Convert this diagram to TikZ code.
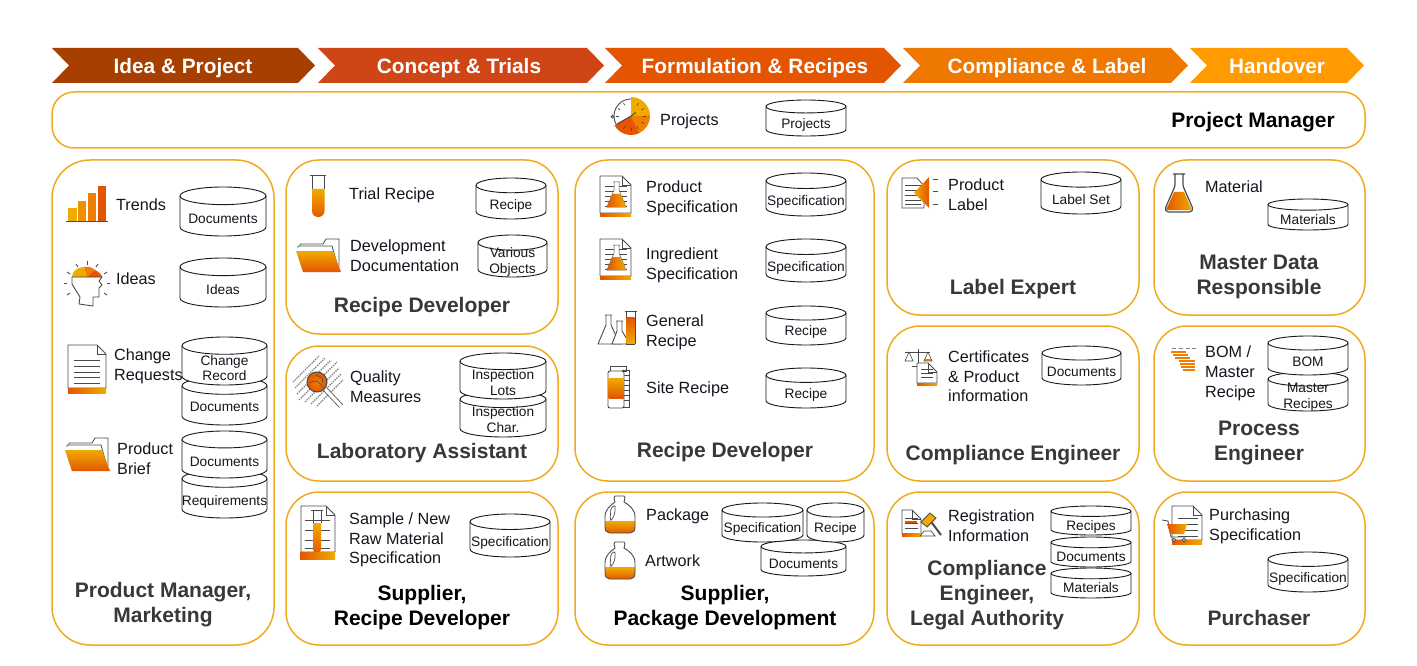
\documentclass[tikz,border=0pt]{standalone}
\usetikzlibrary{calc}
\usepackage{fontspec}
\setmainfont{Liberation Sans}
\definecolor{oa}{HTML}{E35500}
\definecolor{ob}{HTML}{EE7F00}
\definecolor{oc}{HTML}{F0AB00}
\definecolor{frameo}{HTML}{F0AB1E}
\definecolor{ink}{HTML}{15151F}
\definecolor{titlegray}{HTML}{383838}
\definecolor{linegray}{HTML}{4A4A4A}
\definecolor{cha}{HTML}{A63F00}
\definecolor{chb}{HTML}{D04515}
\definecolor{chc}{HTML}{E35500}
\definecolor{chd}{HTML}{EE7800}
\definecolor{che}{HTML}{FF9A00}
\tikzset{
  lbl/.style={anchor=west,align=left,inner sep=0pt,yshift=-1pt,text=ink,font=\fontsize{16.2}{19.7}\selectfont},
  cyltxt/.style={align=center,inner sep=0pt,yshift=-1pt,text=ink,font=\fontsize{13.7}{15.7}\selectfont},
  ttl/.style={align=center,inner sep=0pt,yshift=-2pt,text=titlegray,font=\bfseries\fontsize{21}{25}\selectfont},
  ttlb/.style={ttl,text=black},
  chevtxt/.style={inner sep=0pt,text height=15pt,text depth=4.5pt,text=white,font=\bfseries\fontsize{20.8}{24}\selectfont},
  panel/.style={draw=frameo,line width=1.5pt,rounded corners=33pt,fill=white},
  cylline/.style={draw=black!90,line width=.9pt,fill=white},
  thin ico/.style={draw=linegray,line width=.8pt},
}
% name x1 y1 x2 y2 texty text
\newcommand{\cyl}[7]{%
  \pgfmathsetmacro{\cx}{(#2+#4)/2}%
  \pgfmathsetmacro{\ry}{0.18*(#5-#3)}%
  \pgfmathsetmacro{\kx}{0.5523*(#4-#2)/2}%
  \pgfmathsetmacro{\ky}{0.5523*\ry}%
  \draw[cylline] (#2,#3+\ry) .. controls (#2,#3+\ry-\ky) and (\cx-\kx,#3) .. (\cx,#3)
     .. controls (\cx+\kx,#3) and (#4,#3+\ry-\ky) .. (#4,#3+\ry)
     -- (#4,#5-\ry) .. controls (#4,#5-\ry+\ky) and (\cx+\kx,#5) .. (\cx,#5)
     .. controls (\cx-\kx,#5) and (#2,#5-\ry+\ky) .. (#2,#5-\ry) -- cycle;
  \draw[cylline,fill=none] (#2,#3+\ry) .. controls (#2,#3+\ry+\ky) and (\cx-\kx,#3+2*\ry) .. (\cx,#3+2*\ry)
     .. controls (\cx+\kx,#3+2*\ry) and (#4,#3+\ry+\ky) .. (#4,#3+\ry);
  \node[cyltxt] (#1) at (\cx,#6) {#7};}
% name x1 x2 colour textx text
\newcommand{\chev}[6]{%
  \fill[#4] (#2,48) -- (#3-17,48) -- (#3,65.5) -- (#3-17,83) -- (#2,83) -- (#2+17,65.5) -- cycle;
  \node[chevtxt] (#1) at (#5,68.2) {#6};}
\newcommand{\ostrip}[4]{\shade[left color=oa,right color=oc] (#1,#2) rectangle (#3,#4);}
\newcommand{\page}[4]{%
  \draw[thin ico,fill=white,line join=round] (#1,#2) -- (#1+#3-9,#2) -- (#1+#3,#2+9) -- (#1+#3,#2+#4) -- (#1,#2+#4) -- cycle;
  \draw[thin ico] (#1+#3-9,#2) -- (#1+#3-9,#2+9) -- (#1+#3,#2+9);}
\newcommand{\folder}[2]{\begin{scope}[shift={(#1,#2)}]
  \draw[linegray,line width=.8pt,fill=white] (4,9) -- (4,5) -- (27,5) -- (30,0) -- (43,0) -- (43,28);
  \draw[linegray,line width=.8pt,fill=white] (2,9) -- (2,7) -- (36,7) -- (43,32);
  \shade[top color=oc,middle color=ob,bottom color=oa] (0,12) -- (37,12) -- (45,33) -- (7,33) -- cycle;
\end{scope}}
\newcommand{\specicon}[2]{\begin{scope}[shift={(#1,#2)}]
  \page{0}{0}{31}{37}
  \foreach \yy in {10,15,20,25,30} {\draw[linegray,line width=.5pt] (5,\yy) -- (27,\yy);}
  \fill[white] (14,6) -- (19,6) -- (19,14) -- (26,31) -- (7,31) -- (14,14) -- cycle;
  \draw[linegray,line width=.5pt] (13,6) -- (20,6) (14,6) -- (14,14) -- (7,31) -- (26,31) -- (19,14) -- (19,6);
  \shade[left color=oa,right color=oc] (12.5,18) -- (20.5,18) -- (26,31) -- (7,31) -- cycle;
  \ostrip{0}{37}{31}{40}
\end{scope}}
\newcommand{\jugpath}{(10,0) -- (19,0) -- (20,2) -- (19,6) .. controls (24,9) and (30,13) .. (30,21) -- (30,31) .. controls (30,35) and (28,37) .. (25,37) -- (5,37) .. controls (2,37) and (0,35) .. (0,31) -- (0,21) .. controls (0,13) and (6,9) .. (10,6) -- (9,2) -- cycle}
\newcommand{\jug}[2]{\begin{scope}[shift={(#1,#2)}]
  \fill[white] \jugpath;
  \begin{scope}\clip \jugpath;
    \shade[top color=oc,bottom color=oa] (-1,25) rectangle (31,38);
  \end{scope}
  \draw[linegray,line width=.9pt,line join=round] \jugpath;
  \draw[linegray,line width=.7pt,rounded corners=1.5pt] (6,12) -- (10,9) -- (10,17) -- (7,24) -- (5,24) -- cycle;
\end{scope}}
\begin{document}
\begin{tikzpicture}[x=1pt,y=-1pt]
\useasboundingbox (0,0) rectangle (1417,666);
\fill[white] (0,0) rectangle (1417,666);
% chevrons
\chev{cA}{52}{315}{cha}{183}{Idea \& Project}
\chev{cB}{318}{604}{chb}{459}{Concept \& Trials}
\chev{cC}{605}{901}{chc}{755}{Formulation \& Recipes}
\chev{cD}{903}{1188}{chd}{1047}{Compliance \& Label}
\chev{cE}{1190}{1364}{che}{1277}{Handover}
% panels
\draw[panel,rounded corners=22pt] (52,92) rectangle (1365,148);
\draw[panel,rounded corners=38pt] (52,160) rectangle (274,645);
\draw[panel] (286,160) rectangle (558,334);
\draw[panel] (286,346) rectangle (558,481);
\draw[panel] (286,492) rectangle (558,645);
\draw[panel] (575,160) rectangle (874,481);
\draw[panel] (575,492) rectangle (874,645);
\draw[panel] (887,160) rectangle (1139,315);
\draw[panel] (887,326) rectangle (1139,481);
\draw[panel] (887,492) rectangle (1139,645);
\draw[panel] (1154,160) rectangle (1365,315);
\draw[panel] (1154,326) rectangle (1365,481);
\draw[panel] (1154,492) rectangle (1365,645);
% titles
\node[ttlb] (tPM) at (1253,120) {Project Manager};
\node[ttl] (t1) at (163,602.5) {Product Manager,\\Marketing};
\node[ttl] (t2) at (422,305) {Recipe Developer};
\node[ttl] (t3) at (422,451) {Laboratory Assistant};
\node[ttlb] (t4) at (422,605.5) {Supplier,\\Recipe Developer};
\node[ttl] (t5) at (725,450) {Recipe Developer};
\node[ttlb] (t6) at (725,605.5) {Supplier,\\Package Development};
\node[ttl] (t7) at (1013,287) {Label Expert};
\node[ttl] (t8) at (1013,453) {Compliance Engineer};
\node[ttl] (t9) at (987,593) {Compliance\\Engineer,\\Legal Authority};
\node[ttl] (t10) at (1259,274.5) {Master Data\\Responsible};
\node[ttl] (t11) at (1259,440.5) {Process\\Engineer};
\node[ttl] (t12) at (1259,616) {Purchaser};
% cylinders
\cyl{d1}{180}{187}{266}{236}{218}{Documents}
\cyl{d2}{180}{258}{266}{307}{289}{Ideas}
\cyl{d4}{182}{377}{267}{425}{406}{Documents}
\cyl{d3}{182}{337}{267}{385}{367}{Change\\Record}
\cyl{d6}{182}{470}{267}{518}{501}{Requirements}
\cyl{d5}{182}{431}{267}{478}{461}{Documents}
\cyl{d7}{476}{178}{546}{219}{205}{Recipe}
\cyl{d8}{478}{235}{547}{277}{261}{Various\\Objects}
\cyl{d10}{460}{391}{546}{437}{418.5}{Inspection\\Char.}
\cyl{d9}{460}{353}{546}{399}{381.5}{Inspection\\Lots}
\cyl{d11}{470}{514}{550}{557}{542}{Specification}
\cyl{d12}{766}{100}{846}{136}{124}{Projects}
\cyl{d13}{766}{173}{846}{216}{201}{Specification}
\cyl{d14}{766}{239}{846}{282}{267}{Specification}
\cyl{d15}{766}{306}{846}{345}{331}{Recipe}
\cyl{d16}{766}{368}{846}{408}{394}{Recipe}
\cyl{d19}{761}{540}{846}{576}{563}{Documents}
\cyl{d17}{722}{503}{803}{542}{528}{Specification}
\cyl{d18}{807}{503}{864}{542}{528}{Recipe}
\cyl{d20}{1041}{172}{1121}{214}{199}{Label Set}
\cyl{d21}{1042}{346}{1121}{385}{371}{Documents}
\cyl{d22}{1051}{506}{1131}{535}{526}{Recipes}
\cyl{d23}{1051}{537}{1131}{567}{556}{Documents}
\cyl{d24}{1051}{568}{1131}{598}{587}{Materials}
\cyl{d25}{1268}{199}{1348}{230}{219}{Materials}
\cyl{d27}{1268}{372}{1348}{411}{396.5}{Master\\Recipes}
\cyl{d26}{1268}{336}{1348}{375}{361}{BOM}
\cyl{d28}{1268}{552}{1348}{592}{578}{Specification}
% labels
\node[lbl] (l1) at (116,204) {Trends};
\node[lbl] (l2) at (116,278) {Ideas};
\node[lbl] (l3) at (114,365) {Change\\Requests};
\node[lbl] (l4) at (117,457.5) {Product\\Brief};
\node[lbl] (l5) at (349,194) {Trial Recipe};
\node[lbl] (l6) at (350,254.5) {Development\\Documentation};
\node[lbl] (l7) at (350,385.5) {Quality\\Measures};
\node[lbl] (l8) at (349,539) {Sample / New\\Raw Material\\Specification};
\node[lbl] (l9) at (660,120) {Projects};
\node[lbl] (l10) at (646,197) {Product\\Specification};
\node[lbl] (l11) at (646,264) {Ingredient\\Specification};
\node[lbl] (l12) at (646,331) {General\\Recipe};
\node[lbl] (l13) at (646,388) {Site Recipe};
\node[lbl] (l14) at (646,515) {Package};
\node[lbl] (l15) at (645,560) {Artwork};
\node[lbl] (l16) at (948,194) {Product\\Label};
\node[lbl] (l17) at (948,375.5) {Certificates\\\& Product\\information};
\node[lbl] (l18) at (948,524.5) {Registration\\Information};
\node[lbl] (l19) at (1205,186) {Material};
\node[lbl] (l20) at (1205,372.5) {BOM /\\Master\\Recipe};
\node[lbl] (l21) at (1209,525) {Purchasing\\Specification};
% --- icons ---
% trends
\fill[oc] (68,208) rectangle (77,221);
\fill[ob!60!oc] (78,201) rectangle (86,221);
\fill[ob] (88,193) rectangle (96,221);
\fill[oa] (98,186) rectangle (106,221);
\draw[linegray,line width=1pt] (66,221) -- (108,221);
% ideas head
\fill[oc] (72,277) .. controls (72,271) and (78,267) .. (84,267) -- (87,277) -- cycle;
\fill[ob] (84,267) .. controls (90,266) and (93,268) .. (95,270) -- (87,277) -- cycle;
\fill[oa] (95,270) .. controls (99,272) and (102,275) .. (102,277) -- (87,277) -- cycle;
\draw[linegray,line width=.9pt,line join=round] (72,277) -- (72,284) -- (80,297) -- (79,304) -- (93,306) -- (93,297) -- (99,297) -- (99,288) -- (102,285) -- (99,281) -- (102,277) -- cycle;
\foreach \a/\b/\c/\d in {87/261/87/265, 76/264/78/267, 98/264/96/267, 67/272/70/274, 107/272/104/274, 64/283/67/283, 110/283/107/283, 67/295/70/293, 107/295/104/293} {\draw[linegray,line width=.9pt] (\a,\b) -- (\c,\d);}
% doc change request
\page{68}{345}{38}{43}
\foreach \yy in {360,366,372,377,383} {\draw[linegray,line width=.8pt] (74,\yy) -- (100,\yy);}
\ostrip{68}{388}{106}{393}
% folders
\folder{65}{438}
\folder{296}{239}
% test tube
\draw[linegray,line width=.9pt] (310,175) -- (326,175) (312,175) -- (312,189) (324,175) -- (324,189);
\shade[top color=oc,bottom color=oa] (312,189) -- (324.5,189) -- (324.5,211) .. controls (324.5,219) and (312,219) .. (312,211) -- cycle;
% magnifier
\foreach \d in {-12,-8,-4,0,4,8,12} {
  \pgfmathsetmacro{\t}{19-abs(\d)*0.5}
  \draw[gray,line width=1.3pt,dash pattern=on 1.4pt off 1pt] ({318-\t+\d},{381+\t+\d}) -- ({318+\t+\d},{381-\t+\d});}
\draw[linegray,line width=5pt] (325,389) -- (341,406);
\draw[white,line width=3.4pt] (325,389) -- (341,406);
\shade[inner color=ob,outer color=oa,draw=linegray,line width=1pt] (317,382) circle[radius=10pt];
\draw[linegray,line width=.6pt] (310,383) .. controls (314,379) and (320,381) .. (323,388) (316,375) -- (322,378) -- (323,383);
% sample doc
\page{301}{506}{34}{46}
\foreach \yy in {520,530,540,548} {\draw[linegray,line width=.5pt] (305,\yy) -- (330,\yy);}
\draw[linegray,line width=.7pt] (311,510) -- (323,510) (313,510) -- (313,523) (321,510) -- (321,523);
\shade[top color=oc,bottom color=oa] (313,523) -- (321,523) -- (321,548) .. controls (321,555) and (313,555) .. (313,548) -- cycle;
\ostrip{300}{552}{335}{559}
% stopwatch
\coordinate (sw) at (631,116);
\draw[linegray,line width=.9pt,fill=white] (sw) circle[radius=17pt];
\fill[oc] (sw) -- ++(90:19pt) arc[start angle=90,end angle=0,radius=19pt] -- cycle;
\fill[ob] (sw) -- ++(0:19pt) arc[start angle=0,end angle=-65,radius=19pt] -- cycle;
\fill[oa] (sw) -- ++(-65:19pt) arc[start angle=-65,end angle=-150,radius=19pt] -- cycle;
\foreach \ang in {120,150,180} {\draw[linegray,line width=.7pt] ($(sw)+(\ang:12.5pt)$) -- ($(sw)+(\ang:15pt)$);}
\foreach \ang in {60,30,0,-30,-60,-90,-120} {\draw[oa!60!black,line width=.6pt] ($(sw)+(\ang:12pt)$) -- ($(sw)+(\ang:15pt)$);}
\draw[linegray,line width=1pt] ($(sw)+(-150:16pt)$) -- (sw) -- ($(sw)+(35:6pt)$);
\draw[linegray,line width=.9pt,fill=white] ($(sw)+(-178:18.5pt)$) circle[radius=1.4pt];
% spec icons
\specicon{600}{176}
\specicon{600}{239}
% general recipe
\draw[linegray,line width=.9pt,line join=round] (605,315) -- (612,315) (606,315) -- (606,325) -- (598,344) -- (622,344) (611,315) -- (611,325) -- (617,338);
\draw[linegray,line width=.9pt,line join=round,fill=white] (616,321) -- (623,321) (617,321) -- (617,331) -- (612,344) -- (630,344) -- (622,331) -- (622,321);
\draw[linegray,line width=.9pt] (625,311) -- (637,311) (626,311) -- (626,344) -- (635,344) (635,311) -- (635,344);
\shade[top color=oa,bottom color=oc] (626.5,317) rectangle (634.5,343.5);
% site recipe
\draw[linegray,line width=.7pt] (622,370) rectangle (629,407);
\foreach \yy in {375,380,385,390,395,400} {\draw[linegray,line width=.5pt] (622,\yy) -- (629,\yy);}
\draw[linegray,line width=.7pt] (610,366) rectangle (626,371);
\draw[linegray,line width=.9pt,fill=white,rounded corners=2pt] (608,371) rectangle (624,408);
\shade[top color=oc,bottom color=oa] (608.5,378) rectangle (623.5,398);
% jugs
\jug{605}{496}
\jug{605}{542}
% product label
\draw[thin ico,fill=white] (902,178) -- (917,178) -- (924,186) -- (924,208) -- (902,208) -- cycle;
\foreach \yy in {185,190,195,200,204} {\draw[linegray,line width=.5pt] (905,\yy) -- (921,\yy);}
\shade[left color=oc,right color=oa] (914,193) -- (929,177) -- (929,208) -- cycle;
\foreach \yy in {180,192,204} {\draw[linegray,line width=1pt] (933,\yy) -- (938,\yy);}
% certificates
\draw[linegray,line width=.9pt] (918,349) -- (918,366) (905,352) -- (930,352) (912,366) -- (924,366);
\draw[linegray,line width=.6pt] (909,352) -- (905,361) -- (913,361) -- cycle (928,352) -- (924,361) -- (932,361) -- cycle;
\fill[ob] (925,359) rectangle (931,361);
\page{917}{363}{20}{20}
\foreach \yy in {369,373,377} {\draw[linegray,line width=.5pt] (921,\yy) -- (933,\yy);}
\ostrip{917}{383}{937}{385}
% registration
\page{902}{510}{19}{24}
\foreach \yy in {518,523,528} {\draw[linegray,line width=.6pt] (905,\yy) -- (918,\yy);}
\fill[oa] (905,521) rectangle (917,523);
\ostrip{902}{533}{921}{536}
\draw[linegray,line width=2pt] (929,519) -- (941,535);
\draw[linegray,line width=.8pt,fill=oc] (921,522) -- (930,513) -- (936,518) -- (927,527) -- cycle;
\draw[linegray,line width=.7pt] (920,536) -- (924,531) -- (931,531) -- (935,536) -- cycle;
% flask
\draw[linegray,line width=1.2pt,fill=white,rounded corners=1.5pt,line join=round] (1173,174) -- (1185,174) (1175,174) -- (1175,186) -- (1165,209) -- (1167,212) -- (1191,212) -- (1193,209) -- (1183,186) -- (1183,174);
\shade[left color=oa,right color=oc] (1174,192) -- (1184,192) -- (1192,210) -- (1166,210) -- cycle;
% BOM steps
\foreach \x in {1172,1179,1186,1192} {\draw[linegray!70,line width=1pt] (\x,348) -- (\x+4,348);}
\foreach \x/\y/\l in {1171/352/15,1173/355/15,1175/358/15,1179/361/16,1180/364/15,1181/367/14,1183/370/12} {\draw[ob,line width=1.6pt] (\x,\y) -- (\x+\l,\y);}
% cart doc
\page{1172}{506}{30}{34}
\foreach \yy in {518,524,530,536} {\draw[linegray,line width=.6pt] (1178,\yy) -- (1198,\yy);}
\ostrip{1172}{540}{1202}{544}
\draw[linegray,line width=.8pt] (1162,520) -- (1168,521) -- (1171,537) -- (1186,537);
\shade[left color=oa,right color=oc] (1167,524) -- (1187,524) -- (1184,534) -- (1170,534) -- cycle;
\draw[linegray,line width=.8pt,fill=white] (1174,540) circle[radius=1.8pt] (1184,540) circle[radius=1.8pt];
\end{tikzpicture}
\end{document}
